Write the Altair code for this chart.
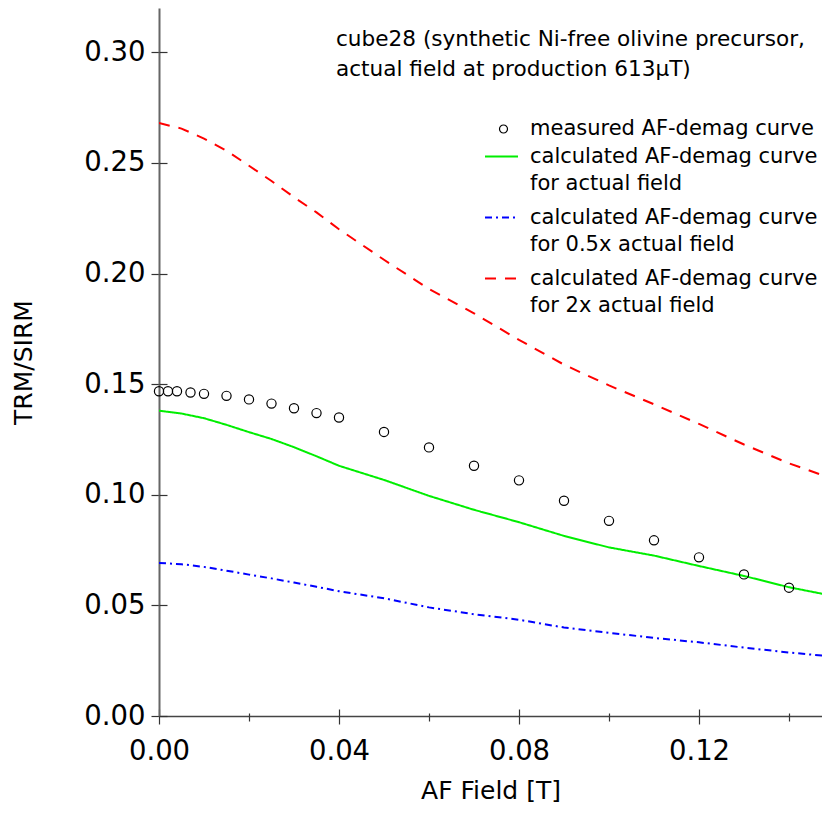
import altair as alt
import pandas as pd

# ---- data ----
meas_x = [0.000, 0.002, 0.004, 0.007, 0.010, 0.015, 0.020, 0.025, 0.030, 0.035,
          0.040, 0.050, 0.060, 0.070, 0.080, 0.090, 0.100, 0.110, 0.120, 0.130, 0.140]
meas_y = [0.1468, 0.1468, 0.1468, 0.1462, 0.1456, 0.1447, 0.1431, 0.1412, 0.1391, 0.1369,
          0.1349, 0.1284, 0.1214, 0.1131, 0.1065, 0.0973, 0.0882, 0.0794, 0.0717, 0.0640, 0.0580]

calc_x = [0.000, 0.005, 0.010, 0.015, 0.020, 0.025, 0.030, 0.035, 0.040, 0.050,
          0.060, 0.070, 0.080, 0.090, 0.100, 0.110, 0.120, 0.130, 0.140, 0.150]
calc_actual = [0.1380, 0.1367, 0.1346, 0.1316, 0.1283, 0.1252, 0.1215, 0.1174, 0.1131, 0.1067,
               0.0995, 0.0932, 0.0876, 0.0814, 0.0762, 0.0725, 0.0678, 0.0633, 0.0582, 0.0542]
calc_half = [0.0692, 0.0686, 0.0674, 0.0657, 0.0639, 0.0622, 0.0603, 0.0584, 0.0564, 0.0532,
             0.0491, 0.0460, 0.0435, 0.0400, 0.0376, 0.0353, 0.0333, 0.0309, 0.0287, 0.0268]
calc_double = [0.2680, 0.2655, 0.2610, 0.2555, 0.2487, 0.2418, 0.2345, 0.2276, 0.2200, 0.2062,
               0.1930, 0.1820, 0.1700, 0.1588, 0.1494, 0.1409, 0.1320, 0.1227, 0.1142, 0.1070]

meas_label = "measured AF-demag curve"
line_codes = ["a", "h", "d"]
line_colors = ["#00ee00", "#0000ff", "#ff0000"]
line_dashes = [[1, 0], [7, 4, 2, 4], [11, 9]]

legend_label_expr = (
    "datum.value == 'a' ? ['calculated AF-demag curve', 'for actual field'] : "
    "datum.value == 'h' ? ['calculated AF-demag curve', 'for 0.5x actual field'] : "
    "['calculated AF-demag curve', 'for 2x actual field']"
)

note_lines = ["cube28 (synthetic Ni-free olivine precursor,",
              "actual field at production 613\u03bcT)"]

x_ticks = [0.00, 0.02, 0.04, 0.06, 0.08, 0.10, 0.12, 0.14]
y_ticks = [0.00, 0.05, 0.10, 0.15, 0.20, 0.25, 0.30]

FONT = "DejaVu Sans"

# ---- tables ----
n = len(calc_x)
calc_df = pd.DataFrame({
    "x": calc_x * 3,
    "y": calc_actual + calc_half + calc_double,
    "series": ["a"] * n + ["h"] * n + ["d"] * n,
})
meas_df = pd.DataFrame({"x": meas_x, "y": meas_y, "kind": [meas_label] * len(meas_x)})
note_df = pd.DataFrame({"text": ["\n".join(note_lines)]})

PLOT_W = 663
x_scale = alt.Scale(domain=[0, PLOT_W / 4500], nice=False, zero=False)
y_scale = alt.Scale(domain=[0, 0.32], nice=False)

major = "round(datum.value * 100) % 4 == 0"

x_axis = alt.Axis(
    orient="bottom", values=x_ticks, title="AF Field [T]",
    labelExpr=f"{major} ? format(datum.value, '.2f') : ''",
    tickSize={"condition": {"test": major, "value": 8}, "value": 5},
    labelPadding=13, titlePadding=14, labelFlush=False,
    domainColor="#444", domainWidth=1.3,
)
y_axis = alt.Axis(
    orient="left", values=y_ticks, format=".2f", title="TRM/SIRM",
    tickSize=8, labelPadding=6, titlePadding=47,
    domainColor="#666", domainWidth=2,
)


def line_legend():
    return alt.Legend(
        orient="none", legendX=325, legendY=131, title=None, padding=0,
        labelFont=FONT, labelFontSize=21, labelColor="black", labelOffset=11,
        labelLimit=0, rowPadding=6, symbolSize=1089, symbolStrokeWidth=2,
        symbolType="stroke", labelExpr=legend_label_expr,
    )


lines = alt.Chart(calc_df).mark_line(strokeWidth=2, clip=True).encode(
    x=alt.X("x:Q", scale=x_scale, axis=x_axis),
    y=alt.Y("y:Q", scale=y_scale, axis=y_axis),
    color=alt.Color("series:N", scale=alt.Scale(domain=line_codes, range=line_colors),
                    legend=line_legend()),
    strokeDash=alt.StrokeDash("series:N", scale=alt.Scale(domain=line_codes, range=line_dashes),
                              legend=line_legend()),
)

points = alt.Chart(meas_df).mark_point(
    filled=False, color="black", size=85, strokeWidth=1.2, opacity=1
).encode(
    x=alt.X("x:Q", scale=x_scale, axis=None),
    y=alt.Y("y:Q", scale=y_scale, axis=None),
    shape=alt.Shape("kind:N", scale=alt.Scale(domain=[meas_label], range=["circle"]),
                    legend=alt.Legend(
                        orient="none", legendX=334, legendY=110.5, title=None, padding=0,
                        labelFont=FONT, labelFontSize=21, labelColor="black", labelOffset=16,
                        labelLimit=0, symbolSize=64, symbolStrokeWidth=1.2,
                        symbolStrokeColor="black", symbolFillColor="transparent")),
)

note = alt.Chart(note_df).mark_text(
    align="left", baseline="alphabetic", font=FONT, fontSize=21.6, color="black",
    lineBreak="\n", lineHeight=30,
).encode(x=alt.value(177), y=alt.value(38), text="text:N")

# inward-pointing halves of the crossing ticks
inner_ticks = alt.Chart(meas_df).mark_point(opacity=0).encode(
    x=alt.X("x:Q", scale=x_scale, axis=alt.Axis(
        orient="top", offset=-708, values=x_ticks, labels=False, domain=False, title=None,
        tickSize={"condition": {"test": major, "value": 7}, "value": 3})),
    y=alt.Y("y:Q", scale=y_scale, axis=alt.Axis(
        orient="right", offset=-PLOT_W, values=y_ticks, labels=False, domain=False, title=None,
        tickSize=8)),
)

chart = alt.layer(lines, points, note, inner_ticks).resolve_axis(
    x="independent", y="independent"
).properties(
    width=PLOT_W, height=708,
    autosize=alt.AutoSizeParams(type="none"),
    padding={"left": 151, "top": 0, "right": 0, "bottom": 92},
    background="white",
).configure(
    style={"guide-label": {"lineHeight": 27}}
).configure_view(stroke=None).configure_axis(
    grid=False, tickColor="#333", tickWidth=1.2,
    labelFont=FONT, labelFontSize=27.5, labelColor="black",
    titleFont=FONT, titleFontSize=25, titleFontWeight="normal", titleColor="black",
)

chart.save("out.html", embed_options={"renderer": "svg", "actions": False})
